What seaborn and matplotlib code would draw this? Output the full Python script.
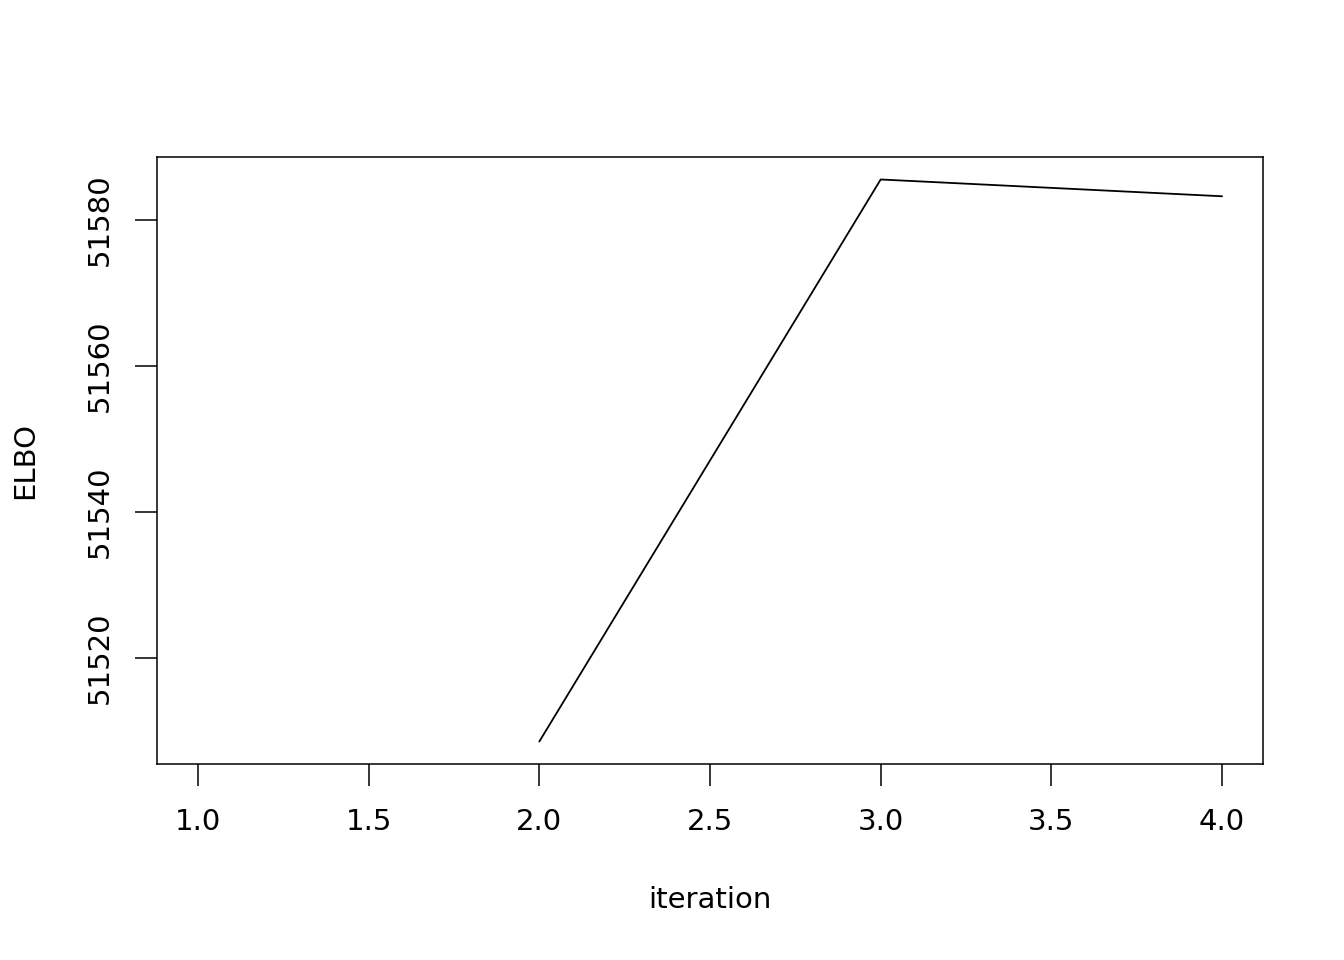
import numpy as np
import pandas as pd
import matplotlib
matplotlib.use("Agg")
import matplotlib.pyplot as plt
import seaborn as sns

# ELBO per iteration (first iteration not finite, so not drawn)
iteration = [1, 2, 3, 4]
elbo = [np.nan, 51508.5, 51585.5, 51583.2]
x_ticks = [1.0, 1.5, 2.0, 2.5, 3.0, 3.5, 4.0]
y_ticks = [51520, 51540, 51560, 51580]

df = pd.DataFrame({"iteration": iteration, "ELBO": elbo})

sns.set_style("white")
plt.rcParams['font.family'] = ['DejaVu Sans']

fig = plt.figure(figsize=(13.44, 9.6), dpi=100)
ax = fig.add_axes([157 / 1344, 1 - 764 / 960, (1263 - 157) / 1344, (764 - 157) / 960])

sns.lineplot(data=df.dropna(), x="iteration", y="ELBO", color="black", linewidth=1.3, ax=ax)

# R-style 4% axis padding
xmin, xmax = min(iteration), max(iteration)
vals = [v for v in elbo if np.isfinite(v)]
ymin, ymax = min(vals), max(vals)
ax.set_xlim(xmin - 0.04 * (xmax - xmin), xmax + 0.04 * (xmax - xmin))
ax.set_ylim(ymin - 0.04 * (ymax - ymin), ymax + 0.04 * (ymax - ymin))

ax.set_xticks(x_ticks)
ax.set_xticklabels([f"{t:.1f}" for t in x_ticks])
ax.set_yticks(y_ticks)
ax.set_yticklabels([str(t) for t in y_ticks], rotation=90, va="center")

ax.tick_params(axis="both", direction="out", length=16, width=1.1, labelsize=21,
               color="black", labelcolor="black", left=True, bottom=True)
ax.tick_params(axis="x", pad=16)
ax.tick_params(axis="y", pad=15)
for s in ax.spines.values():
    s.set_color("black")
    s.set_linewidth(1.1)

ax.set_xlabel("iteration", fontsize=21, labelpad=36, color="black")
ax.set_ylabel("ELBO", fontsize=21, labelpad=34, color="black")

fig.savefig("out.png", dpi=100)
